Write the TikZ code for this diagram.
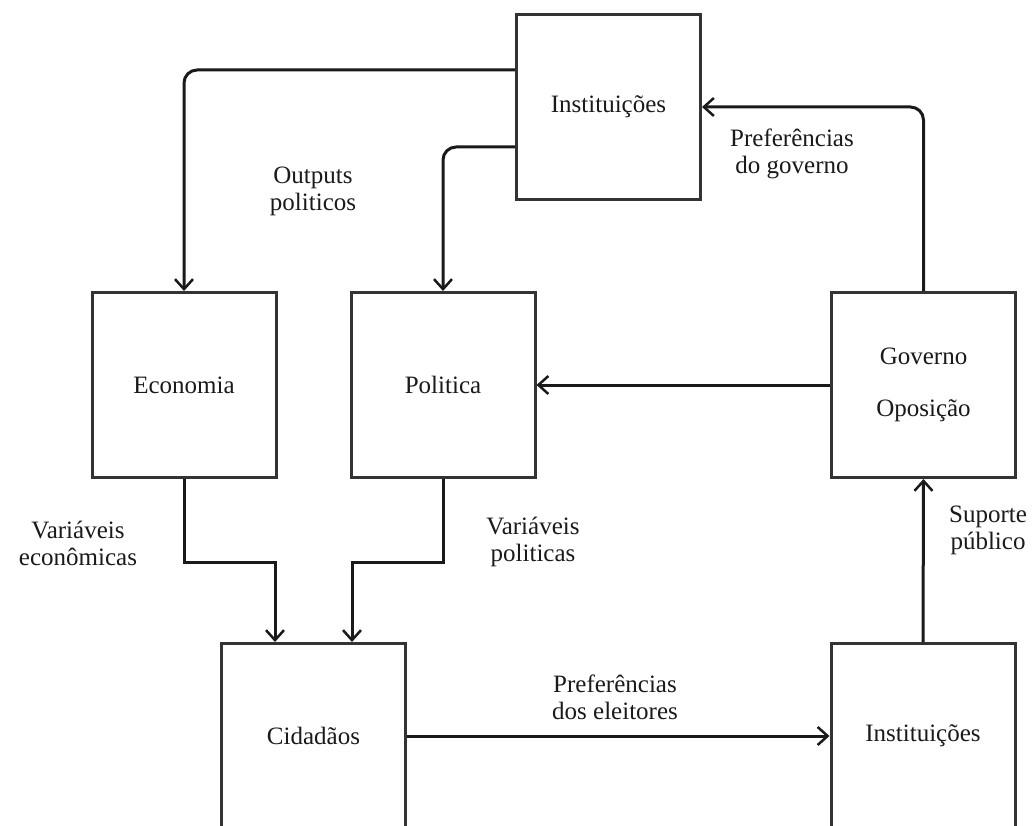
\documentclass[tikz,border=0pt]{standalone}
\usepackage{fontspec}
\setmainfont{Liberation Serif}
\usetikzlibrary{arrows.meta,calc}
\definecolor{boxline}{HTML}{333333}
\definecolor{ink}{HTML}{1A1A1A}
\tikzset{
  box/.style={draw=boxline, line width=3pt, rectangle, minimum width=184pt, minimum height=185pt, inner sep=0pt, text=ink, font=\fontsize{25}{27}\selectfont, align=center},
  lbl/.style={text=ink, font=\fontsize{25}{27}\selectfont, align=center, inner sep=0pt},
  arr/.style={draw=ink, line width=3pt, -{Straight Barb[length=10pt,width=18pt,line width=2.5pt]}},
  rc/.style={rounded corners=13pt}
}
\begin{document}
\begin{tikzpicture}[x=1pt,y=-1pt]
\useasboundingbox (0,0) rectangle (1032,826);
\clip (0,0) rectangle (1032,826);
\fill[white] (0,0) rectangle (1032,826);
% boxes
\node[box] (top) at (608.5,107) {Instituições};
\node[box] (eco) at (184,385) {Economia};
\node[box] (pol) at (443,385) {Politica};
\node[box] (gov) at (923.5,385) {Governo\\[25pt]Oposição};
\node[box] (cid) at (313.5,736) {Cidadãos};
\node[box] (bin) at (923,736) {Instituições};
% connectors
\draw[arr,rc] ([yshift=37pt]top.west) -| (eco.north);
\draw[arr,rc] ([yshift=-40pt]top.west) -| (pol.north);
\draw[arr,rc] (gov.north) |- (top.east);
\draw[arr] (gov.west) -- (pol.east);
\draw[arr] (eco.south) -- ++(0,83) -| ([xshift=-38.5pt]cid.north);
\draw[arr] (pol.south) -- ++(0,83) -| ([xshift=38.5pt]cid.north);
\draw[arr] (cid.east) -- (bin.west);
\draw[arr] (bin.north) -- (gov.south);
% labels
\node[lbl] (l1) at (313,191) {Outputs\\politicos};
\node[lbl] (l2) at (792,154) {Preferências\\do governo};
\node[lbl] (l3) at (78,543) {Variáveis\\econômicas};
\node[lbl] (l4) at (533,542) {Variáveis\\politicas};
\node[lbl] (l5) at (988,530) {Suporte\\público};
\node[lbl] (l6) at (615,697) {Preferências\\dos eleitores};
\end{tikzpicture}
\end{document}
